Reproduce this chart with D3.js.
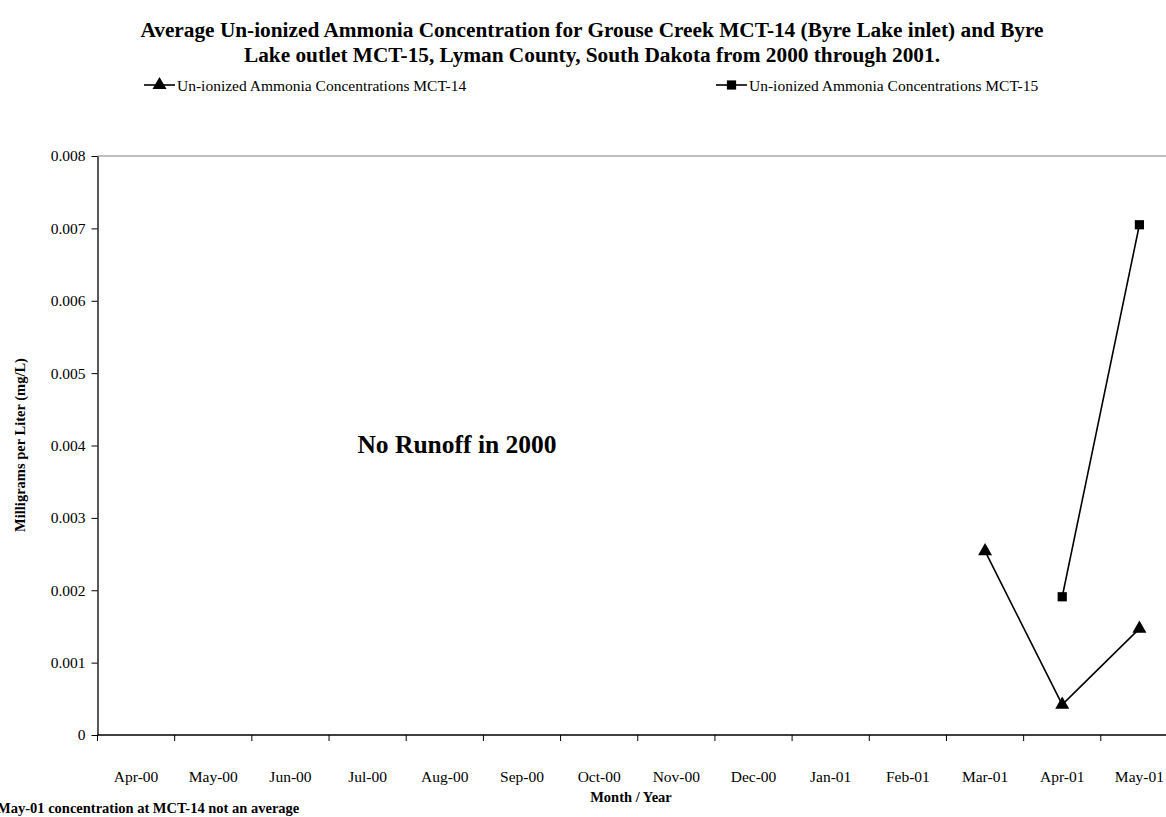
<!DOCTYPE html>
<html><head><meta charset="utf-8">
<script src="https://cdn.jsdelivr.net/npm/d3@7"></script>
<style>
html,body{margin:0;padding:0;background:#fff;overflow:hidden}
svg{display:block;font-family:"Liberation Serif","Times New Roman",serif}
</style></head>
<body><svg id="c" width="1166" height="817"></svg>
<script>
const months = ["Apr-00","May-00","Jun-00","Jul-00","Aug-00","Sep-00","Oct-00","Nov-00","Dec-00","Jan-01","Feb-01","Mar-01","Apr-01","May-01"];
const mct14Months = ["Mar-01","Apr-01","May-01"];
const mct14Values = [0.00254, 0.00042, 0.00147];
const mct15Months = ["Apr-01","May-01"];
const mct15Values = [0.00191, 0.00705];
const yTicks = [0,0.001,0.002,0.003,0.004,0.005,0.006,0.007,0.008];
const titleLines = ["Average Un-ionized Ammonia Concentration for Grouse Creek MCT-14 (Byre Lake inlet) and Byre","Lake outlet MCT-15, Lyman County, South Dakota from 2000 through 2001."];

const svg = d3.select("#c");
const L = 97.5, R = 1178, T = 156, B = 735;
const x = d3.scaleBand().domain(months).range([L, R]).padding(0);
const y = d3.scaleLinear().domain([0, 0.008]).range([B, T]);

// title
svg.append("g").selectAll("text").data(titleLines).join("text")
  .attr("x", 592).attr("y", (d,i)=>37 + i*25).attr("text-anchor","middle")
  .attr("font-weight","bold").attr("font-size","21.3px").text(d=>d);

// plot border (top)
svg.append("line").attr("x1",L).attr("x2",R).attr("y1",T).attr("y2",T).attr("stroke","#808080").attr("stroke-width",1);

// y axis
const ya = svg.append("g").attr("transform",`translate(${L},0)`)
  .call(d3.axisLeft(y).tickValues(yTicks).tickSize(6).tickSizeOuter(0).tickFormat(d=> d===0 ? "0" : d3.format(".3f")(d)));
ya.select(".domain").attr("stroke","#000").attr("stroke-width",1.3);
ya.selectAll(".tick line").attr("stroke","#000");
ya.selectAll("text").attr("font-family","Liberation Serif").attr("font-size","15.5px").attr("fill","#000").attr("dx","-3");

// x axis
const tickPos = months.map(m=>x(m)).concat([R]);
const xa = svg.append("g").attr("transform",`translate(0,${B})`);
xa.append("line").attr("x1",L).attr("x2",R).attr("stroke","#000").attr("stroke-width",1.3);
xa.selectAll("line.t").data(tickPos).join("line").attr("class","t")
  .attr("x1",d=>d).attr("x2",d=>d).attr("y1",0).attr("y2",6).attr("stroke","#000");
xa.selectAll("text").data(months).join("text")
  .attr("x",d=>x(d)+x.bandwidth()/2).attr("y",47).attr("text-anchor","middle")
  .attr("font-size","15.5px").text(d=>d);

// axis titles
svg.append("text").attr("transform","translate(25,445) rotate(-90)").attr("text-anchor","middle")
  .attr("font-weight","bold").attr("font-size","14.5px").text("Milligrams per Liter (mg/L)");
svg.append("text").attr("x",631).attr("y",802).attr("text-anchor","middle")
  .attr("font-weight","bold").attr("font-size","14.5px").text("Month / Year");
svg.append("text").attr("x",-3).attr("y",813)
  .attr("font-weight","bold").attr("font-size","14.5px").text("May-01 concentration at MCT-14 not an average");
svg.append("text").attr("x",457).attr("y",453).attr("text-anchor","middle")
  .attr("font-weight","bold").attr("font-size","25.5px").text("No Runoff in 2000");

// series
const cx = m => x(m) + x.bandwidth()/2;
const line = d3.line().x(d=>cx(d[0])).y(d=>y(d[1]));
const s14 = mct14Months.map((m,i)=>[m, mct14Values[i]]);
const s15 = mct15Months.map((m,i)=>[m, mct15Values[i]]);
svg.append("path").datum(s14).attr("d",line).attr("fill","none").attr("stroke","#000").attr("stroke-width",1.6);
svg.append("path").datum(s15).attr("d",line).attr("fill","none").attr("stroke","#000").attr("stroke-width",1.6);
const tri = d3.symbol().type(d3.symbolTriangle).size(85);
const sq = d3.symbol().type(d3.symbolSquare).size(85);
svg.selectAll("path.t14").data(s14).join("path").attr("class","t14")
  .attr("transform",d=>`translate(${cx(d[0])},${y(d[1])})`).attr("d",tri()).attr("fill","#000");
svg.selectAll("path.s15").data(s15).join("path").attr("class","s15")
  .attr("transform",d=>`translate(${cx(d[0])},${y(d[1])})`).attr("d",sq()).attr("fill","#000");

// legend
const legend = [
  {name:"Un-ionized Ammonia Concentrations MCT-14", sym:tri, x:144},
  {name:"Un-ionized Ammonia Concentrations MCT-15", sym:sq, x:716}
];
const lg = svg.append("g").selectAll("g").data(legend).join("g").attr("transform",d=>`translate(${d.x},85)`);
lg.append("line").attr("x1",0).attr("x2",31).attr("stroke","#000").attr("stroke-width",1.6);
lg.append("path").attr("transform","translate(15.5,0)").attr("d",d=>d.sym()).attr("fill","#000");
lg.append("text").attr("x",33).attr("y",5.5).attr("font-size","15.5px").text(d=>d.name);
</script></body></html>
